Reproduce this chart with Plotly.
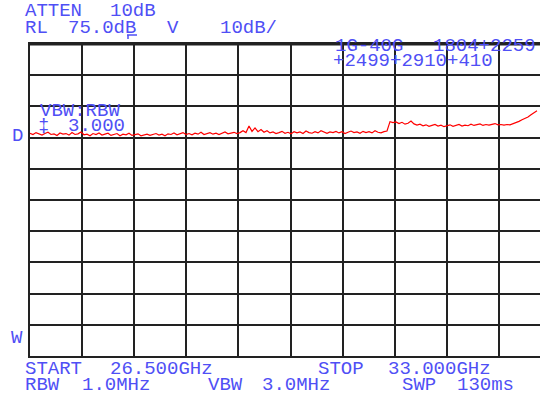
import numpy as np
import plotly.graph_objects as go

# ---- data ----
start_ghz = 26.5
stop_ghz = 33.0
ref_level_db = 75.0
db_per_div = 10.0

trace_db = [
    # 26.5 - 28.0 GHz
    46.4, 46.0, 46.6, 46.1, 45.8, 46.3, 46.7, 46.0, 46.2, 45.7,
    46.5, 46.1, 46.3, 45.8, 46.6, 46.0, 46.2, 46.8, 45.9, 46.1,
    45.6, 46.3, 46.0, 46.5, 45.8, 46.1, 46.4, 45.7, 46.0, 46.3,
    45.6, 46.1, 45.9, 46.4, 45.7, 46.0, 46.2, 45.6, 45.9, 46.1,
    # 28.0 - 29.2 GHz
    45.7, 46.0, 46.3, 45.8, 46.1, 45.6, 46.2, 46.0, 46.5, 45.9,
    46.2, 46.6, 46.0, 46.3, 45.9, 46.4, 46.1, 46.7, 46.0, 46.3,
    46.6, 46.1, 46.4, 46.0, 46.5, 46.8, 46.2, 46.4, 46.7, 46.3, 46.6,
    # bump
    47.2, 46.6, 48.7, 47.0, 48.1, 46.9, 47.6, 46.7, 47.2, 46.5,
    # 29.5 - 31.0 GHz
    46.8, 46.3, 46.6, 47.0, 46.4, 46.7, 46.2, 46.9, 46.5, 46.8,
    46.3, 47.1, 46.6, 46.4, 46.9, 46.5, 47.2, 46.7, 46.4, 46.8,
    46.6, 47.0, 46.5, 46.9, 46.3, 46.7, 47.1, 46.6, 46.8, 46.4,
    47.0, 46.6, 46.9, 46.5, 47.2, 46.7, 46.5, 46.9, 47.1,
    # 31.0 - 32.5 GHz
    50.1, 49.8, 50.0, 49.5, 49.9, 49.3, 49.6, 50.3, 49.4, 49.0,
    49.3, 48.8, 49.1, 48.6, 48.9, 49.2, 48.7, 49.0, 48.5, 48.9,
    49.1, 48.6, 48.8, 49.2, 48.7, 49.0, 48.8, 49.3, 48.9, 49.1,
    49.4, 48.9, 49.2, 49.0, 49.3, 49.5, 49.1, 49.2, 49.0, 49.2, 49.1,
    # rising edge
    49.4, 49.9, 50.2, 50.7, 51.1, 51.6, 52.3, 52.9, 53.6,
]

header_texts = ["ATTEN", "10dB", "RL", "75.0dB", "V", "10dB/"]
limit_texts = ["1G-40G", "1804+2259", "+2499+2910+410"]
ratio_texts = ["VBW:RBW", "\u2021", "3.000"]
side_texts = ["D", "W"]
footer_texts = ["START", "26.500GHz", "STOP", "33.000GHz",
                "RBW", "1.0MHz", "VBW", "3.0MHz", "SWP", "130ms"]

# ---- geometry ----
W, H = 540, 398
L, R, T, B = 30, 540, 44, 356
full_right_px = 551  # grid continues off-screen
px_per_ghz = (full_right_px - L) / (stop_ghz - start_ghz)
x_end = start_ghz + (R - L) / px_per_ghz

freqs = np.linspace(start_ghz, start_ghz + (537 - L) / px_per_ghz, len(trace_db))

fig = go.Figure()
fig.add_trace(go.Scatter(x=freqs, y=trace_db, mode="lines",
                         line=dict(color="#ff0000", width=1.2),
                         hoverinfo="skip", showlegend=False))

def pxx(x):
    return (x - L) / (R - L)

def pyy(y):
    return (B - y) / (B - T)

col = "#4f4ff5"
font = dict(family="Liberation Mono, Courier New, monospace", size=19, color=col)

def txt(s, x, y):
    fig.add_annotation(text=s, x=pxx(x), y=pyy(y), xref="paper", yref="paper",
                       xanchor="left", yanchor="middle", showarrow=False,
                       font=font)

# header
txt(header_texts[0], 23, 11)
txt(header_texts[1], 108, 11)
txt(header_texts[2], 23, 28)
txt(header_texts[3], 66, 28)
txt(header_texts[4], 165, 28)
txt(header_texts[5], 218, 28)
# limit line labels
txt(limit_texts[0], 333, 46)
txt(limit_texts[1], 431, 46)
txt(limit_texts[2], 331, 61)
# ratio
txt(ratio_texts[0], 38, 111)
txt(ratio_texts[1], 36, 126)
txt(ratio_texts[2], 66, 126)
# side markers
txt(side_texts[0], 10, 136)
txt(side_texts[1], 9, 338)
# footer
txt(footer_texts[0], 23, 369)
txt(footer_texts[1], 108, 369)
txt(footer_texts[2], 316, 369)
txt(footer_texts[3], 386, 369)
txt(footer_texts[4], 23, 385)
txt(footer_texts[5], 80, 385)
txt(footer_texts[6], 206, 385)
txt(footer_texts[7], 260, 385)
txt(footer_texts[8], 400, 385)
txt(footer_texts[9], 455, 385)

# small marker glyph under "dB"
fig.add_shape(type="line", xref="paper", yref="paper",
              x0=pxx(127), x1=pxx(137), y0=pyy(35), y1=pyy(35),
              line=dict(color=col, width=1.5))
fig.add_shape(type="line", xref="paper", yref="paper",
              x0=pxx(128), x1=pxx(128), y0=pyy(35), y1=pyy(39),
              line=dict(color=col, width=1.5))
# thick top border
fig.add_shape(type="line", xref="paper", yref="paper",
              x0=0, x1=1, y0=1, y1=1, line=dict(color="#222222", width=3))

fig.update_xaxes(range=[start_ghz, x_end], tick0=start_ghz,
                 dtick=(stop_ghz - start_ghz) / 10,
                 showgrid=True, gridcolor="#222222", gridwidth=1.6,
                 showline=True, linecolor="#222222", linewidth=2, mirror=True,
                 showticklabels=False, ticks="", zeroline=False)
fig.update_yaxes(range=[ref_level_db - 10 * db_per_div, ref_level_db], tick0=ref_level_db,
                 dtick=db_per_div,
                 showgrid=True, gridcolor="#222222", gridwidth=1.6,
                 showline=True, linecolor="#222222", linewidth=2, mirror=False,
                 showticklabels=False, ticks="", zeroline=False)

fig.update_layout(width=W, height=H, margin=dict(l=L, r=W - R, t=T, b=H - B),
                  paper_bgcolor="white", plot_bgcolor="white", showlegend=False)

fig.write_html("out.html", config={"displayModeBar": False},
               post_script="document.body.style.margin='0';document.body.style.overflow='hidden';")
